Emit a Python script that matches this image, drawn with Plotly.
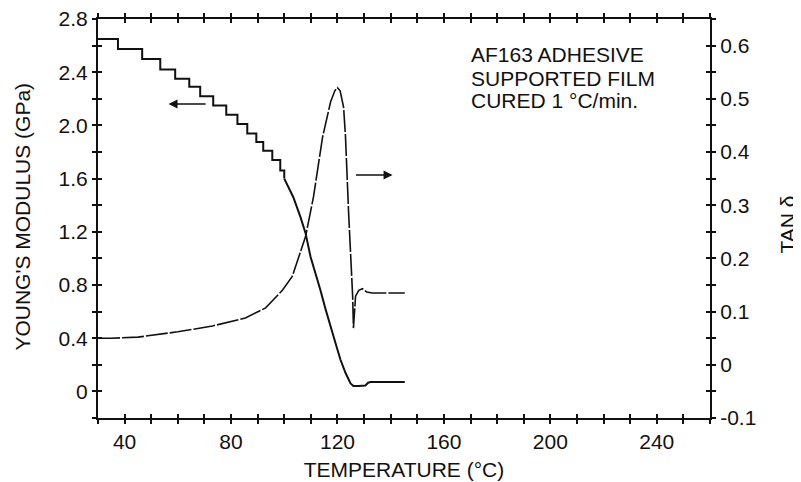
import plotly.graph_objects as go

# ---- data ----
temp_steps = [30.0, 37.5, 46.6, 53.4, 59.0, 64.3, 68.4, 73.3, 78.2, 82.4, 86.1, 89.5, 92.1, 95.5, 98.5, 100.0]
modulus_steps = [2.65, 2.575, 2.50, 2.42, 2.35, 2.29, 2.22, 2.15, 2.08, 2.01, 1.94, 1.875, 1.81, 1.74, 1.66, 1.60]

temp_curve = [100.0, 101.6, 103.4, 106.1, 108.0, 109.9, 111.8, 113.6, 115.5, 117.4, 119.3, 121.1,
              123.0, 124.9, 126.0, 128.0, 130.5, 131.5, 132.4, 145.3]
modulus_curve = [1.60, 1.53, 1.46, 1.31, 1.19, 1.01, 0.89, 0.76, 0.62, 0.48, 0.36, 0.24,
                 0.14, 0.06, 0.04, 0.04, 0.045, 0.065, 0.07, 0.07]

temp_tan = [30.0, 35.0, 45.0, 60.0, 73.0, 85.4, 93.0, 99.3, 103.0, 105.5, 108.0, 111.0, 114.4, 117.4,
            119.0, 120.0, 121.0, 122.3, 123.0, 124.2, 125.3, 125.7, 126.0, 126.4, 126.8, 128.0,
            129.4, 131.0, 133.0, 145.3]
tan_delta = [0.050, 0.050, 0.052, 0.062, 0.073, 0.088, 0.107, 0.140, 0.166, 0.204, 0.241, 0.316, 0.428,
             0.494, 0.515, 0.521, 0.515, 0.484, 0.430, 0.284, 0.180, 0.129, 0.069, 0.100, 0.129, 0.140,
             0.143, 0.137, 0.135, 0.135]

x_range = [30, 260]
x_tick_vals = [40, 80, 120, 160, 200, 240]
x_tick_text = ["40", "80", "120", "160", "200", "240"]

y_left_range = [-0.2, 2.8]
y_left_tick_vals = [0, 0.4, 0.8, 1.2, 1.6, 2.0, 2.4, 2.8]
y_left_tick_text = ["0", "0.4", "0.8", "1.2", "1.6", "2.0", "2.4", "2.8"]

y_right_range = [-0.1, 0.65]
y_right_tick_vals = [-0.1, 0, 0.1, 0.2, 0.3, 0.4, 0.5, 0.6]
y_right_tick_text = ["-0.1", "0", "0.1", "0.2", "0.3", "0.4", "0.5", "0.6"]

note_lines = ["AF163 ADHESIVE", "SUPPORTED FILM", "CURED 1 °C/min."]
x_title = "TEMPERATURE (°C)"
y_left_title = "YOUNG'S MODULUS (GPa)"
y_right_title = "TAN δ"

FONT = "Liberation Sans, Arial, Helvetica, sans-serif"
BLACK = "#111111"

fig = go.Figure()

fig.add_trace(go.Scatter(x=temp_steps, y=modulus_steps, mode="lines", line=dict(color=BLACK, width=2, shape="hv"),
                         showlegend=False, hoverinfo="skip"))
fig.add_trace(go.Scatter(x=temp_curve, y=modulus_curve, mode="lines", line=dict(color=BLACK, width=2),
                         showlegend=False, hoverinfo="skip"))
fig.add_trace(go.Scatter(x=temp_tan, y=tan_delta, mode="lines", yaxis="y2",
                         line=dict(color=BLACK, width=1.6, dash="22px,2px"),
                         showlegend=False, hoverinfo="skip"))
# empty traces so the overlay axes (inside tick halves) get drawn
fig.add_trace(go.Scatter(x=[], y=[], xaxis="x2", yaxis="y3", showlegend=False))
fig.add_trace(go.Scatter(x=[], y=[], xaxis="x2", yaxis="y4", showlegend=False))

tickfont = dict(family=FONT, size=21, color=BLACK)
common = dict(showgrid=False, zeroline=False, linecolor=BLACK, tickcolor=BLACK, tickwidth=1.5,
              automargin=False, ticklabeloverflow="allow")
minor_style = dict(ticks="outside", ticklen=4, tickcolor=BLACK, tickwidth=1.5, tickmode="linear")

# the page body adds an 8px offset, so the figure is 8px smaller and margins compensate
fig.update_layout(
    width=793, height=474,
    margin=dict(l=90, r=91, t=11, b=64, autoexpand=False),
    paper_bgcolor="white", plot_bgcolor="white",
    font=dict(family=FONT, color=BLACK),
    xaxis=dict(range=x_range, tickmode="array", tickvals=x_tick_vals, ticktext=x_tick_text,
               ticks="outside", ticklen=4, minor=dict(tick0=40, dtick=10, **minor_style),
               showline=True, linewidth=2, mirror="ticks", tickfont=tickfont,
               title=dict(text=x_title, font=dict(family=FONT, size=21, color=BLACK), standoff=10),
               **common),
    xaxis2=dict(range=x_range, overlaying="x", anchor="y", side="bottom", tickmode="linear", tick0=40, dtick=10,
                ticks="inside", ticklen=4, showticklabels=False, showline=False, mirror="ticks", **common),
    yaxis=dict(range=y_left_range, tickmode="array", tickvals=y_left_tick_vals, ticktext=y_left_tick_text,
               ticks="outside", ticklen=4, minor=dict(tick0=0, dtick=0.2, **minor_style),
               showline=True, linewidth=2, tickfont=tickfont, **common),
    yaxis2=dict(range=y_right_range, overlaying="y", side="right", anchor="x", tickmode="array",
                tickvals=y_right_tick_vals, ticktext=y_right_tick_text,
                ticks="outside", ticklen=4, minor=dict(tick0=0, dtick=0.05, **minor_style),
                showline=True, linewidth=2, tickfont=tickfont, **common),
    yaxis3=dict(range=y_left_range, overlaying="y", side="left", anchor="x", tickmode="linear", tick0=0, dtick=0.2,
                ticks="inside", ticklen=4, showticklabels=False, showline=False, **common),
    yaxis4=dict(range=y_right_range, overlaying="y", side="right", anchor="x", tickmode="linear", tick0=0, dtick=0.05,
                ticks="inside", ticklen=4, showticklabels=False, showline=False, **common),
)

# y-axis titles as rotated annotations placed in the margins
fig.add_annotation(x=-0.124, y=0.505, xref="paper", yref="paper", text=y_left_title, textangle=-90,
                   showarrow=False, xanchor="center", yanchor="middle", font=dict(family=FONT, size=21, color=BLACK))
fig.add_annotation(x=1.127, y=0.484, xref="paper", yref="paper", text=y_right_title, textangle=-90,
                   showarrow=False, xanchor="center", yanchor="middle", font=dict(family=FONT, size=21, color=BLACK))

# note text block
note_y = [2.53, 2.355, 2.185]
for line, yv in zip(note_lines, note_y):
    fig.add_annotation(x=169.5, y=yv, xref="x", yref="y", text=line, showarrow=False, xanchor="left",
                       yanchor="middle", font=dict(family=FONT, size=21, color=BLACK))

# direction arrows
fig.add_annotation(x=56.5, y=2.16, ax=71, ay=2.16, xref="x", yref="y", axref="x", ayref="y", text="",
                   showarrow=True, arrowhead=2, arrowsize=1.2, arrowwidth=1.5, arrowcolor=BLACK)
fig.add_annotation(x=140.7, y=0.357, ax=126.4, ay=0.357, xref="x", yref="y2", axref="x", ayref="y2", text="",
                   showarrow=True, arrowhead=2, arrowsize=1.2, arrowwidth=1.5, arrowcolor=BLACK)

fig.write_html("out.html")
